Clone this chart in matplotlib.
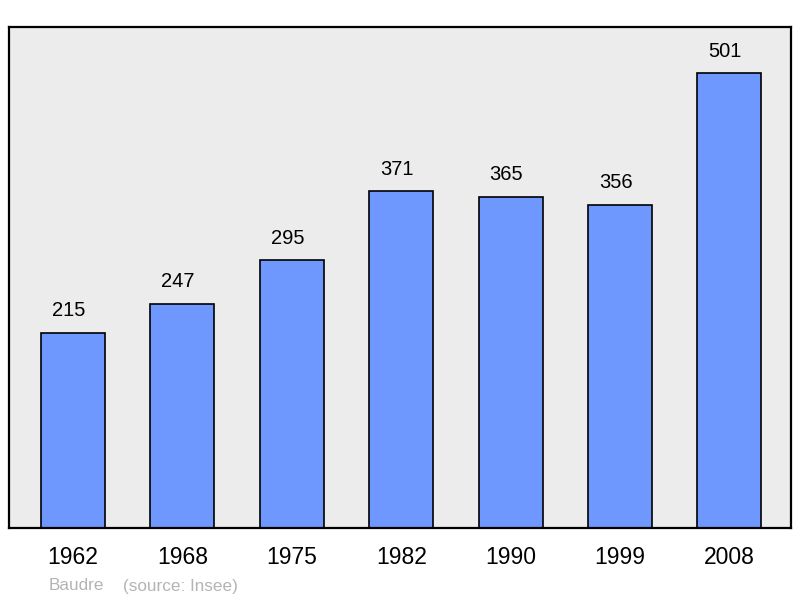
import matplotlib.pyplot as plt
import numpy as np

plt.rcParams["font.family"] = ["Liberation Sans", "DejaVu Sans"]

annees = ["1962", "1968", "1975", "1982", "1990", "1999", "2008"]
population = [215, 247, 295, 371, 365, 356, 501]
commune = "Baudre"
source = "(source: Insee)"

fig = plt.figure(figsize=(8, 5.98), dpi=100)
ax = fig.add_axes([9 / 800, 1 - 528 / 598, 782 / 800, 501 / 598])
ax.set_facecolor("#ececec")

x = np.arange(len(annees))
ax.bar(x, population, width=0.585, color="#6f98ff", edgecolor="black",
       linewidth=1.2, zorder=2)

# etiquettes un peu decalees a gauche, comme sur l'original
for xi, v in zip(x, population):
    ax.annotate(str(v), (xi, v), xytext=(-3.2, 16), textcoords="offset points",
                ha="center", va="center", fontsize=14.5)

ax.set_xlim(-0.585, 6.563)
ax.set_ylim(0, 552)
ax.set_xticks(x)
ax.set_xticklabels(annees, fontsize=16.5)
ax.tick_params(axis="x", length=0, pad=13)
ax.set_yticks([])
for s in ax.spines.values():
    s.set_linewidth(1.6)

fig.text(49 / 800, 1 - 586 / 598, commune, color="#b4b4b4", fontsize=12.3,
         va="center")
fig.text(123 / 800, 1 - 586 / 598, source, color="#b4b4b4", fontsize=12.3,
         va="center")

fig.savefig("out.png", dpi=100)
